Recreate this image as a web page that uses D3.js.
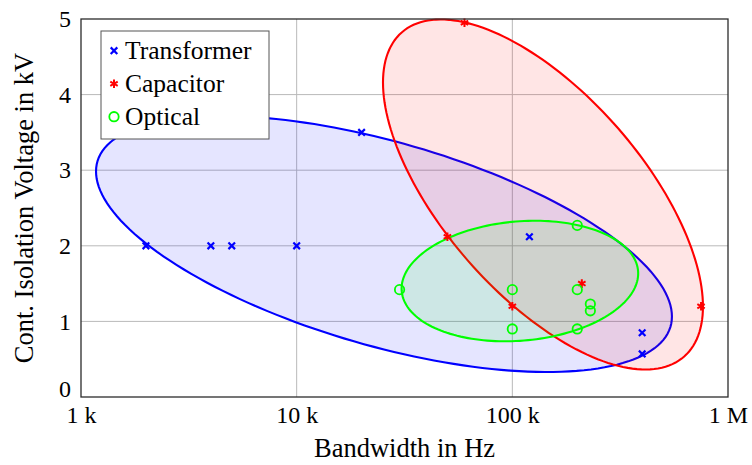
<!DOCTYPE html>
<html>
<head>
<meta charset="utf-8">
<script src="https://cdn.jsdelivr.net/npm/d3@7"></script>
<style>
  html, body { margin: 0; padding: 0; background: #fff; }
  svg { display: block; font-family: "Liberation Serif", "Times New Roman", serif; }
</style>
</head>
<body>
<svg id="chart" width="752" height="465"></svg>
<script>
// ---- data ----
const transformerX = [2e3, 4e3, 5e3, 10e3, 20e3, 120e3, 400e3, 400e3];
const transformerY = [2, 2, 2, 2, 3.5, 2.12, 0.85, 0.57];
const capacitorX = [60e3, 50e3, 100e3, 210e3, 750e3];
const capacitorY = [4.95, 2.12, 1.2, 1.5, 1.2];
const opticalX = [30e3, 100e3, 100e3, 200e3, 200e3, 200e3, 230e3, 230e3];
const opticalY = [1.42, 1.42, 0.9, 2.27, 1.42, 0.9, 1.23, 1.14];

const seriesNames = ["Transformer", "Capacitor", "Optical"];
const seriesColors = ["#0000ff", "#ff0000", "#00ff00"];

// ellipses: centre (Hz, kV) and two conjugate half-axes (decades, kV)
const ellipseCenterX = [25.4e3, 138.7e3, 108.4e3];
const ellipseCenterY = [2.024, 2.679, 1.534];
const ellipseAxisU = [[1.3352, -0.959], [0.7418, -1.4815], [0.5485, 0.1005]];
const ellipseAxisV = [[0, -1.3955], [0, -1.779], [0, -0.791]];

const xTickValues = [1e3, 1e4, 1e5, 1e6];
const xTickLabels = ["1 k", "10 k", "100 k", "1 M"];
const yTickValues = [0, 1, 2, 3, 4, 5];
const xGridValues = [1e4, 1e5];
const yGridValues = [1, 2, 3, 4];

// ---- layout ----
const svg = d3.select("#chart");
const L = 81, R = 728, T = 19, B = 397;
const x = d3.scaleLog().domain([1e3, 1e6]).range([L, R]);
const y = d3.scaleLinear().domain([0, 5]).range([B, T]);

// grid
const grid = svg.append("g").attr("stroke", "#b9b9b9").attr("stroke-width", 1);
grid.selectAll(".gx").data(xGridValues).join("line")
  .attr("x1", d => x(d)).attr("x2", d => x(d)).attr("y1", T).attr("y2", B);
grid.selectAll(".gy").data(yGridValues).join("line")
  .attr("y1", d => y(d)).attr("y2", d => y(d)).attr("x1", L).attr("x2", R);

// ellipses
function ellipsePath(i) {
  const lc = Math.log10(ellipseCenterX[i]);
  const pts = d3.range(0, 361, 2).map(a => {
    const t = a * Math.PI / 180, c = Math.cos(t), s = Math.sin(t);
    const lx = lc + ellipseAxisU[i][0] * c + ellipseAxisV[i][0] * s;
    const vy = ellipseCenterY[i] + ellipseAxisU[i][1] * c + ellipseAxisV[i][1] * s;
    return [x(Math.pow(10, lx)), y(vy)];
  });
  return d3.line().curve(d3.curveLinearClosed)(pts);
}
const ell = svg.append("g");
[0, 1, 2].forEach(i => {
  ell.append("path").attr("d", ellipsePath(i))
    .attr("fill", seriesColors[i]).attr("fill-opacity", 0.1)
    .attr("stroke", seriesColors[i]).attr("stroke-width", 2.1);
});

// markers
function drawMarker(g, type, cx, cy, color) {
  if (type === 0) {
    const r = 3.3;
    g.append("path").attr("d", `M${cx-r},${cy-r}L${cx+r},${cy+r}M${cx-r},${cy+r}L${cx+r},${cy-r}`)
      .attr("stroke", color).attr("stroke-width", 2.2).attr("fill", "none");
  } else if (type === 1) {
    const r = 4.3;
    let d = "";
    [90, 30, 150].forEach(a => {
      const t = a * Math.PI / 180;
      d += `M${cx - r*Math.cos(t)},${cy - r*Math.sin(t)}L${cx + r*Math.cos(t)},${cy + r*Math.sin(t)}`;
    });
    g.append("path").attr("d", d).attr("stroke", color).attr("stroke-width", 2).attr("fill", "none");
  } else {
    g.append("circle").attr("cx", cx).attr("cy", cy).attr("r", 4.7)
      .attr("stroke", color).attr("stroke-width", 1.8).attr("fill", "none");
  }
}
const mk = svg.append("g");
const allX = [transformerX, capacitorX, opticalX];
const allY = [transformerY, capacitorY, opticalY];
[0, 1, 2].forEach(s => {
  allX[s].forEach((v, j) => drawMarker(mk, s, x(v), y(allY[s][j]), seriesColors[s]));
});

// frame
svg.append("rect").attr("x", L).attr("y", T).attr("width", R - L).attr("height", B - T)
  .attr("fill", "none").attr("stroke", "#2b2b2b").attr("stroke-width", 1.3);

// axes labels (ticks)
const xAxis = d3.axisBottom(x).tickValues(xTickValues)
  .tickFormat((d, i) => xTickLabels[i]).tickSize(0).tickPadding(0);
const gx = svg.append("g").attr("transform", `translate(0,${B})`).call(xAxis);
gx.select(".domain").remove();
gx.selectAll("text").attr("font-family", "Liberation Serif").attr("font-size", 24)
  .attr("fill", "#000").attr("dy", null).attr("y", 26);

const yAxis = d3.axisLeft(y).tickValues(yTickValues).tickFormat(d3.format("d")).tickSize(0).tickPadding(10);
const gy = svg.append("g").attr("transform", `translate(${L},0)`).call(yAxis);
gy.select(".domain").remove();
gy.selectAll("text").attr("font-family", "Liberation Serif").attr("font-size", 24).attr("fill", "#000");
gy.selectAll(".tick").filter(d => d === 0).select("text").attr("y", -8);

// axis titles
svg.append("text").attr("x", (L + R) / 2).attr("y", 457).attr("text-anchor", "middle")
  .attr("font-size", 26.5).text("Bandwidth in Hz");
svg.append("text").attr("transform", `translate(33,${(T + B) / 2}) rotate(-90)`)
  .attr("text-anchor", "middle").attr("font-size", 26.5).text("Cont. Isolation Voltage in kV");

// legend
const lg = svg.append("g");
lg.append("rect").attr("x", 101).attr("y", 31).attr("width", 168).attr("height", 108)
  .attr("fill", "#fff").attr("stroke", "#555").attr("stroke-width", 1);
seriesNames.forEach((n, i) => {
  const cy = 50.7 + i * 33;
  drawMarker(lg, i, 114, cy, seriesColors[i]);
  lg.append("text").attr("x", 125).attr("y", cy + 8.6).attr("font-size", 25.5).text(n);
});
</script>
</body>
</html>
